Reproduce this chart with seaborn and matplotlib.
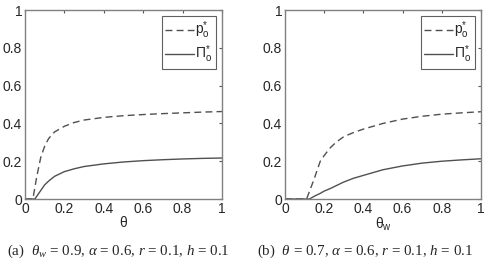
import numpy as np
import pandas as pd
import seaborn as sns
import matplotlib
matplotlib.use("Agg")
import matplotlib.pyplot as plt

# panel (a): varying theta
theta_a = [0, 0.04, 0.05, 0.06, 0.08, 0.1, 0.12, 0.15, 0.2, 0.25, 0.3, 0.4, 0.5, 0.6, 0.7, 0.8, 0.9, 1.0]
p_a = [0, 0, 0.06, 0.12, 0.22, 0.28, 0.32, 0.355, 0.385, 0.405, 0.418, 0.432, 0.441, 0.447, 0.452, 0.456, 0.46, 0.463]
pi_a = [0, 0, 0, 0.015, 0.045, 0.075, 0.095, 0.12, 0.145, 0.16, 0.172, 0.186, 0.196, 0.203, 0.208, 0.212, 0.215, 0.217]

# panel (b): varying theta_w
theta_b = [0, 0.11, 0.125, 0.15, 0.18, 0.2, 0.23, 0.26, 0.3, 0.35, 0.4, 0.5, 0.6, 0.7, 0.8, 0.9, 1.0]
p_b = [0, 0, 0.04, 0.11, 0.2, 0.23, 0.27, 0.3, 0.33, 0.352, 0.37, 0.4, 0.423, 0.438, 0.449, 0.456, 0.462]
pi_b = [0, 0, 0, 0.015, 0.03, 0.042, 0.055, 0.07, 0.09, 0.11, 0.125, 0.155, 0.175, 0.19, 0.2, 0.207, 0.213]

ticks = [0, 0.2, 0.4, 0.6, 0.8, 1]
tick_labels = ["0", "0.2", "0.4", "0.6", "0.8", "1"]

sns.set_style("white")
plt.rcParams["font.family"] = ["Liberation Sans", "DejaVu Sans"]
plt.rcParams["mathtext.fontset"] = "custom"
plt.rcParams["mathtext.rm"] = "Liberation Sans"
plt.rcParams["mathtext.it"] = "Liberation Serif:italic"

fig = plt.figure(figsize=(4.88, 2.65), dpi=100)
ax1 = fig.add_axes([0.0512, 0.249, 0.4037, 0.713])
ax2 = fig.add_axes([0.584, 0.249, 0.4016, 0.713])

line_col = "#505050"
panels = [
    (ax1, theta_a, p_a, pi_a, "θ"),
    (ax2, theta_b, p_b, pi_b, r"θ$_{\rm w}$"),
]
for ax, x, p, pi, xl in panels:
    df = pd.DataFrame({"x": x, "p": p, "pi": pi})
    sns.lineplot(data=df, x="x", y="p", ax=ax, color=line_col, lw=1.0,
                 linestyle=(0, (5, 3)), label=r"$\mathrm{p}^{*}_{\mathrm{o}}$")
    sns.lineplot(data=df, x="x", y="pi", ax=ax, color=line_col, lw=1.0,
                 label=r"$\Pi^{*}_{\mathrm{o}}$")
    ax.set_xlim(0, 1)
    ax.set_ylim(0, 1)
    ax.set_xticks(ticks)
    ax.set_xticklabels(tick_labels)
    ax.set_yticks(ticks)
    ax.set_yticklabels(tick_labels)
    ax.tick_params(direction="in", length=2, width=0.8, color="#555555",
                   labelsize=10, pad=2, top=True, right=True)
    ax.set_xlabel(xl, fontsize=10, labelpad=0)
    ax.set_ylabel("")
    for s in ax.spines.values():
        s.set_color("#808080")
        s.set_linewidth(1.0)
    leg = ax.legend(loc="upper right", fontsize=10, handlelength=2.1,
                    handletextpad=0.05, borderpad=0.25, labelspacing=0.2,
                    fancybox=False, framealpha=1, borderaxespad=0.45)
    leg.get_frame().set_edgecolor("#606060")
    leg.get_frame().set_linewidth(0.8)

cap_kw = dict(fontsize=10.8, family=["Liberation Serif"], va="center")
fig.text(0.014, 0.05, r"(a)  $\theta_{w}$ = 0.9, $\alpha$ = 0.6, $r$ = 0.1, $h$ = 0.1", **cap_kw)
fig.text(0.527, 0.05, r"(b)  $\theta$ = 0.7, $\alpha$ = 0.6, $r$ = 0.1, $h$ = 0.1", **cap_kw)

fig.savefig("out.png", dpi=100)
